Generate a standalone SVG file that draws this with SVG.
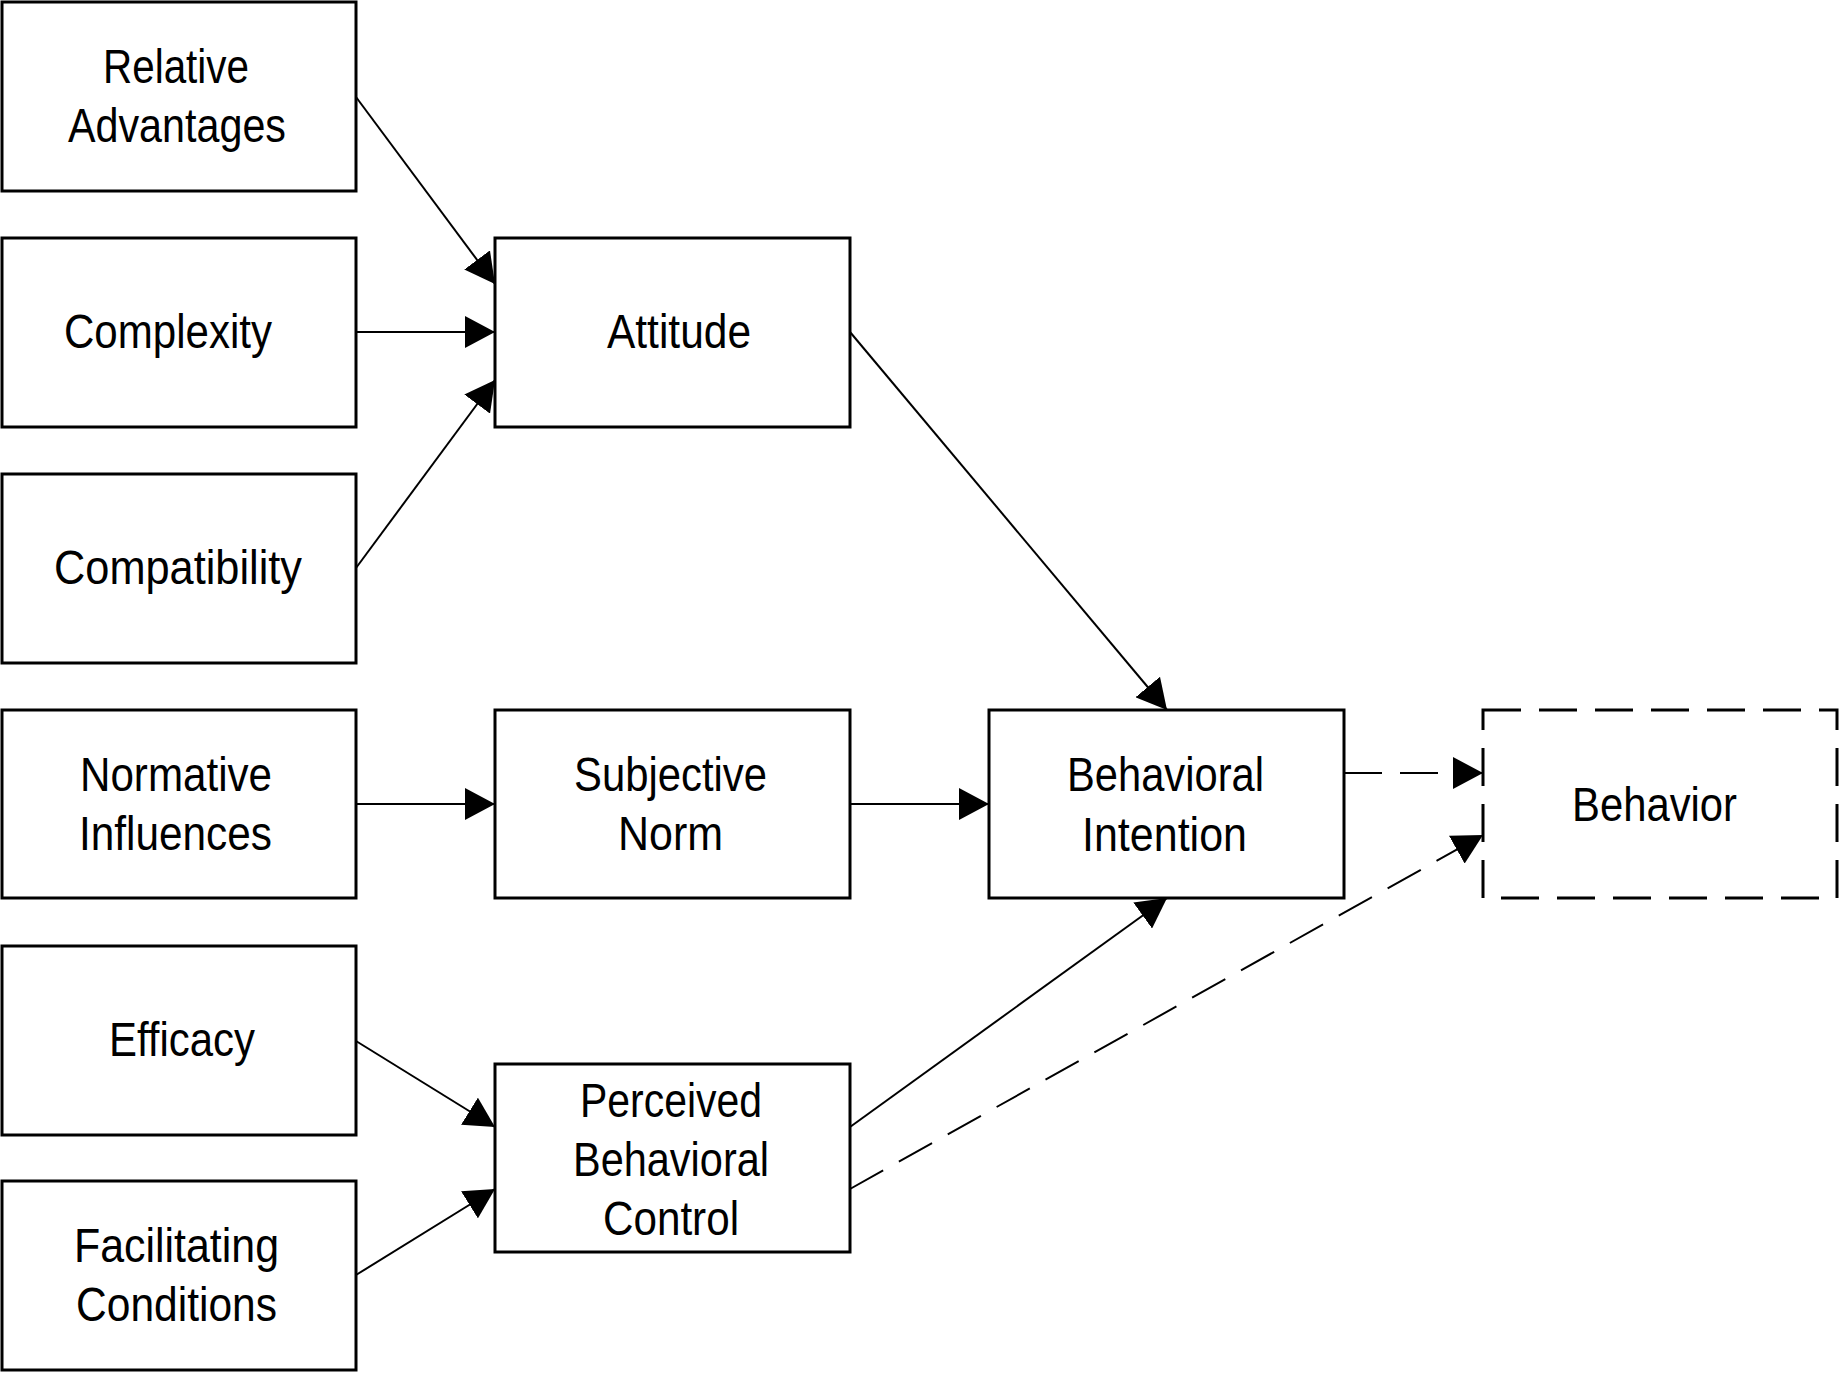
<svg xmlns="http://www.w3.org/2000/svg" width="1840" height="1373" viewBox="0 0 1840 1373">
<style>
.box{fill:#fff;stroke:#000;stroke-width:3}
.dash{stroke-dasharray:38 18}
.lbl{font-family:"Liberation Sans Narrow","Liberation Sans",Arial,sans-serif;font-size:48px;fill:#000;text-anchor:middle}
.c{stroke:#000;stroke-width:2;fill:none;marker-end:url(#ah)}
</style>
<defs>
<marker id="ah" viewBox="0 0 30 32" refX="30" refY="16" markerWidth="30" markerHeight="32" markerUnits="userSpaceOnUse" orient="auto">
<path d="M0,0 L30,16 L0,32 z" fill="#000"/>
</marker>
</defs>
<g id="connectors">
<line class="c" x1="356" y1="97" x2="495" y2="284"/>
<line class="c" x1="356" y1="332" x2="495" y2="332"/>
<line class="c" x1="356" y1="568" x2="495" y2="380"/>
<line class="c" x1="356" y1="804" x2="495" y2="804"/>
<line class="c" x1="850" y1="804" x2="989" y2="804"/>
<line class="c" x1="850" y1="332" x2="1167" y2="710"/>
<line class="c" x1="356" y1="1041" x2="495" y2="1127"/>
<line class="c" x1="356" y1="1275" x2="495" y2="1189"/>
<line class="c" x1="850" y1="1127" x2="1167" y2="898"/>
<line class="c dash" x1="1344" y1="773" x2="1483" y2="773"/>
<line class="c dash" x1="850" y1="1189" x2="1483" y2="835"/>
</g>
<g id="relative-advantages">
<rect class="box" x="2" y="2" width="354" height="189"/>
<text class="lbl" x="176" y="83" textLength="146" lengthAdjust="spacingAndGlyphs">Relative</text>
<text class="lbl" x="177" y="142" textLength="218" lengthAdjust="spacingAndGlyphs">Advantages</text>
</g>
<g id="complexity">
<rect class="box" x="2" y="238" width="354" height="189"/>
<text class="lbl" x="168" y="348" textLength="208" lengthAdjust="spacingAndGlyphs">Complexity</text>
</g>
<g id="compatibility">
<rect class="box" x="2" y="474" width="354" height="189"/>
<text class="lbl" x="178" y="584" textLength="248" lengthAdjust="spacingAndGlyphs">Compatibility</text>
</g>
<g id="normative-influences">
<rect class="box" x="2" y="710" width="354" height="188"/>
<text class="lbl" x="176" y="791" textLength="192" lengthAdjust="spacingAndGlyphs">Normative</text>
<text class="lbl" x="175.5" y="850" textLength="193" lengthAdjust="spacingAndGlyphs">Influences</text>
</g>
<g id="efficacy">
<rect class="box" x="2" y="946" width="354" height="189"/>
<text class="lbl" x="182" y="1056" textLength="146" lengthAdjust="spacingAndGlyphs">Efficacy</text>
</g>
<g id="facilitating-conditions">
<rect class="box" x="2" y="1181" width="354" height="189"/>
<text class="lbl" x="176.5" y="1262" textLength="205" lengthAdjust="spacingAndGlyphs">Facilitating</text>
<text class="lbl" x="176.5" y="1321" textLength="201" lengthAdjust="spacingAndGlyphs">Conditions</text>
</g>
<g id="attitude">
<rect class="box" x="495" y="238" width="355" height="189"/>
<text class="lbl" x="679" y="348" textLength="144" lengthAdjust="spacingAndGlyphs">Attitude</text>
</g>
<g id="subjective-norm">
<rect class="box" x="495" y="710" width="355" height="188"/>
<text class="lbl" x="670.5" y="791" textLength="193" lengthAdjust="spacingAndGlyphs">Subjective</text>
<text class="lbl" x="670.5" y="850" textLength="105" lengthAdjust="spacingAndGlyphs">Norm</text>
</g>
<g id="perceived-behavioral-control">
<rect class="box" x="495" y="1064" width="355" height="188"/>
<text class="lbl" x="671" y="1117" textLength="182" lengthAdjust="spacingAndGlyphs">Perceived</text>
<text class="lbl" x="671" y="1176" textLength="196" lengthAdjust="spacingAndGlyphs">Behavioral</text>
<text class="lbl" x="671" y="1235" textLength="136" lengthAdjust="spacingAndGlyphs">Control</text>
</g>
<g id="behavioral-intention">
<rect class="box" x="989" y="710" width="355" height="188"/>
<text class="lbl" x="1165.5" y="791" textLength="197" lengthAdjust="spacingAndGlyphs">Behavioral</text>
<text class="lbl" x="1164.5" y="851" textLength="165" lengthAdjust="spacingAndGlyphs">Intention</text>
</g>
<g id="behavior">
<rect class="box dash" x="1483" y="710" width="354" height="188"/>
<text class="lbl" x="1654.5" y="821" textLength="165" lengthAdjust="spacingAndGlyphs">Behavior</text>
</g>
</svg>
